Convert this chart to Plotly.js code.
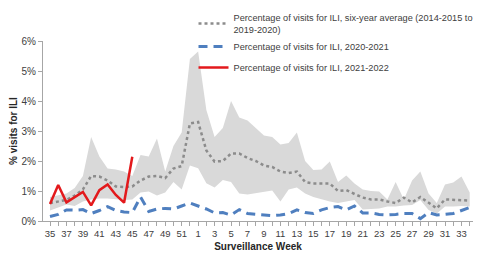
<!DOCTYPE html>
<html>
<head>
<meta charset="utf-8">
<script src="https://cdn.plot.ly/plotly-3.0.1.min.js"></script>
<style>html,body{margin:0;padding:0;background:#fff;}#chart{width:480px;height:253px;}</style>
</head>
<body>
<div id="chart"></div>
<script>
// Surveillance weeks (35..52, then 1..34)
const weeks = ["35","36","37","38","39","40","41","42","43","44","45","46","47","48","49","50","51","52",
  "1","2","3","4","5","6","7","8","9","10","11","12","13","14","15","16","17","18","19","20",
  "21","22","23","24","25","26","27","28","29","30","31","32","33","34"];

// Six-year average (% visits for ILI)
const avgSixYear = [0.6,0.65,0.7,0.85,1.05,1.5,1.48,1.35,1.15,1.13,1.15,1.35,1.48,1.5,1.43,1.75,1.83,3.25,
  3.3,2.35,1.98,2.0,2.25,2.25,2.1,2.0,1.85,1.8,1.65,1.6,1.65,1.3,1.25,1.25,1.25,1.0,1.03,0.9,
  0.78,0.72,0.72,0.65,0.6,0.78,0.62,0.8,0.62,0.42,0.72,0.7,0.7,0.68];

// Range of the six seasons (upper and lower bounds of the shaded band)
const bandUpper = [0.8,0.85,0.92,1.1,1.5,2.8,2.15,1.75,1.72,1.65,1.5,2.2,2.15,2.75,1.65,2.5,2.95,5.4,
  5.65,3.7,2.8,3.1,4.0,3.45,3.35,3.1,2.85,2.8,2.55,2.6,2.95,2.0,1.7,1.72,1.98,1.3,1.52,1.25,
  1.05,1.0,0.98,0.72,1.3,0.72,1.35,1.65,0.92,0.6,1.22,1.28,1.48,0.95];
const bandLower = [0.35,0.45,0.55,0.5,0.65,0.72,0.75,0.75,0.72,0.7,0.72,0.95,0.98,0.85,0.95,1.3,1.05,1.85,
  1.76,1.26,1.12,1.37,1.3,0.92,0.88,0.92,0.98,1.02,0.65,1.05,1.12,0.92,0.8,0.72,0.65,0.6,0.65,0.7,
  0.38,0.4,0.42,0.48,0.48,0.52,0.53,0.7,0.37,0.25,0.48,0.48,0.5,0.48];

// 2020-2021 season
const season2020 = [0.15,0.22,0.37,0.36,0.38,0.25,0.35,0.48,0.35,0.3,0.28,0.8,0.32,0.4,0.42,0.4,0.5,0.6,
  0.5,0.4,0.27,0.28,0.2,0.38,0.25,0.22,0.2,0.18,0.2,0.25,0.37,0.28,0.25,0.37,0.45,0.48,0.37,0.5,
  0.27,0.27,0.22,0.2,0.22,0.25,0.25,0.08,0.28,0.2,0.22,0.25,0.35,0.45];

// 2021-2022 season (weeks 35..45)
const weeks2021 = ["35","36","37","38","39","40","41","42","43","44","45"];
const season2021 = [0.57,1.2,0.62,0.8,0.97,0.52,1.03,1.22,0.87,0.61,2.14];

const yTickVals = [0,1,2,3,4,5,6];
const yTickText = ["0%","1%","2%","3%","4%","5%","6%"];

// position of each week along the season axis
const pos = w => weeks.indexOf(w);
const xAll = weeks.map(pos);
const x2021 = weeks2021.map(pos);
const xTickText = weeks.map((w,i)=> i%2===0 ? w : "");

const FONT = "Liberation Sans, Arial, sans-serif";

const traces = [
  {x: xAll, y: bandLower, type:"scatter", mode:"lines", line:{width:0, color:"rgba(0,0,0,0)"},
   showlegend:false, hoverinfo:"skip"},
  {x: xAll, y: bandUpper, type:"scatter", mode:"lines", line:{width:0, color:"rgba(0,0,0,0)"},
   fill:"tonexty", fillcolor:"#d9d9d9", showlegend:false, hoverinfo:"skip"},
  {x: xAll, y: avgSixYear, type:"scatter", mode:"lines", legendgroup:"a",
   name:"Percentage of visits for ILI, six-year average (2014-2015 to<br>2019-2020)",
   line:{color:"#8c8c8c", width:2.5, dash:"dot"}},
  {x: xAll, y: season2020, type:"scatter", mode:"lines", legendgroup:"a",
   name:"Percentage of visits for ILI, 2020-2021",
   line:{color:"#4f7fbf", width:3, dash:"9px,6px"}},
  {x: x2021, y: season2021, type:"scatter", mode:"lines", legendgroup:"b",
   name:"Percentage of visits for ILI, 2021-2022",
   line:{color:"#e3191c", width:2.5}}
];

const layout = {
  width:480, height:253,
  margin:{l:43, r:7, t:41, b:32, pad:0, autoexpand:false},
  paper_bgcolor:"#ffffff", plot_bgcolor:"#ffffff",
  font:{family:FONT, size:10, color:"#404040"},
  showlegend:true,
  legend:{x:0.35, y:1.2, xanchor:"left", yanchor:"top", bgcolor:"rgba(255,255,255,0)",
    font:{family:FONT, size:9.2, color:"#404040"}, traceorder:"grouped",
    itemwidth:30, tracegroupgap:2},
  xaxis:{type:"linear", range:[-0.85, 51.4], showgrid:false, zeroline:false,
    showline:true, linecolor:"#a6a6a6", linewidth:1,
    ticks:"outside", ticklen:4, tickcolor:"#a6a6a6",
    tickmode:"array", tickvals:xAll, ticktext:xTickText,
    tickfont:{family:FONT, size:9.5, color:"#404040"}, tickangle:0,
    title:{text:"<b>Surveillance Week</b>", font:{family:FONT, size:10, color:"#262626"}, standoff:4}},
  yaxis:{range:[0,6], showgrid:false, zeroline:false,
    showline:true, linecolor:"#a6a6a6", linewidth:1,
    ticks:"outside", ticklen:4, tickcolor:"#a6a6a6",
    tickmode:"array", tickvals:yTickVals, ticktext:yTickText,
    tickfont:{family:FONT, size:10, color:"#404040"},
    title:{text:"<b>% visits for ILI</b>", font:{family:FONT, size:10, color:"#262626"}, standoff:2}}
};

Plotly.newPlot("chart", traces, layout, {displayModeBar:false, staticPlot:true});
</script>
</body>
</html>
